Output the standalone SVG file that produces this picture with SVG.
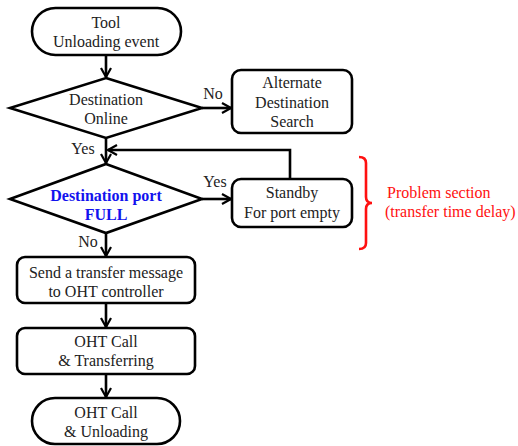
<svg xmlns="http://www.w3.org/2000/svg" width="518" height="446" viewBox="0 0 518 446" font-family="'Liberation Serif', 'Times New Roman', 'DejaVu Serif', serif">
<defs>
<marker id="arr" viewBox="0 0 12 12" refX="11" refY="6" markerWidth="12" markerHeight="12" markerUnits="userSpaceOnUse" orient="auto">
<polyline points="2,1 11,6 2,11" fill="none" stroke="#000" stroke-width="2.2" stroke-linejoin="miter"/>
</marker>
</defs>
<style>
.shape{fill:#fff;stroke:#000;stroke-width:2.6}
.conn{fill:none;stroke:#000;stroke-width:2.6}
text{font-family:'Liberation Serif','Times New Roman','DejaVu Serif',serif;font-size:16px;fill:#222}
.c{text-anchor:middle}
.blue{fill:#1212ee;font-weight:bold}
.red{fill:#ff1010}
</style>
<rect width="518" height="446" fill="#fff"/>
<g id="connectors">
<line class="conn" x1="106" y1="55" x2="106" y2="77" marker-end="url(#arr)"/>
<line class="conn" x1="202" y1="108" x2="231" y2="108" marker-end="url(#arr)"/>
<line class="conn" x1="106" y1="138" x2="106" y2="163" marker-end="url(#arr)"/>
<polyline class="conn" points="290,179 290,150 108,150" marker-end="url(#arr)"/>
<line class="conn" x1="202" y1="199" x2="231" y2="199" marker-end="url(#arr)"/>
<line class="conn" x1="106" y1="233" x2="106" y2="256" marker-end="url(#arr)"/>
<line class="conn" x1="106" y1="303" x2="106" y2="327" marker-end="url(#arr)"/>
<line class="conn" x1="106" y1="374" x2="106" y2="397" marker-end="url(#arr)"/>
<text x="213" y="99" class="c">No</text>
<text x="83" y="154" class="c">Yes</text>
<text x="215" y="187" class="c">Yes</text>
<text x="88" y="247" class="c">No</text>
</g>
<g id="start">
<rect class="shape" x="32" y="8" width="149" height="47" rx="23.5"/>
<text x="106" y="28" class="c">Tool</text>
<text x="106" y="47" class="c">Unloading event</text>
</g>
<g id="dest-online">
<polygon class="shape" points="106,78 202,108 106,138 10,108"/>
<text x="106" y="105" class="c">Destination</text>
<text x="106" y="124" class="c">Online</text>
</g>
<g id="alt-search">
<rect class="shape" x="232" y="70" width="120" height="63" rx="9"/>
<text x="292" y="88" class="c">Alternate</text>
<text x="292" y="108" class="c">Destination</text>
<text x="292" y="127" class="c">Search</text>
</g>
<g id="port-full">
<polygon class="shape" points="106,164 202,199 106,233 10,199"/>
<text x="106" y="201" class="c blue">Destination port</text>
<text x="106" y="220" class="c blue">FULL</text>
</g>
<g id="standby">
<rect class="shape" x="232" y="179" width="120" height="48" rx="9"/>
<text x="292" y="198" class="c">Standby</text>
<text x="292" y="218" class="c">For port empty</text>
</g>
<g id="problem">
<path d="M359,157 Q366,157 366,163 L366,197 Q366,203 372,203 Q366,203 366,209 L366,243 Q366,249 359,249" fill="none" stroke="#ff1010" stroke-width="2.6"/>
<text x="387" y="198" class="red">Problem section</text>
<text x="385" y="217" class="red">(transfer time delay)</text>
</g>
<g id="send-msg">
<rect class="shape" x="17" y="257" width="178" height="46" rx="8"/>
<text x="106" y="278" class="c">Send a transfer message</text>
<text x="106" y="297" class="c">to OHT controller</text>
</g>
<g id="transferring">
<rect class="shape" x="17" y="328" width="178" height="46" rx="8"/>
<text x="106" y="347" class="c">OHT Call</text>
<text x="106" y="366" class="c">&amp; Transferring</text>
</g>
<g id="unloading">
<rect class="shape" x="32" y="398" width="148" height="46" rx="23"/>
<text x="106" y="418" class="c">OHT Call</text>
<text x="106" y="437" class="c">&amp; Unloading</text>
</g>
</svg>
